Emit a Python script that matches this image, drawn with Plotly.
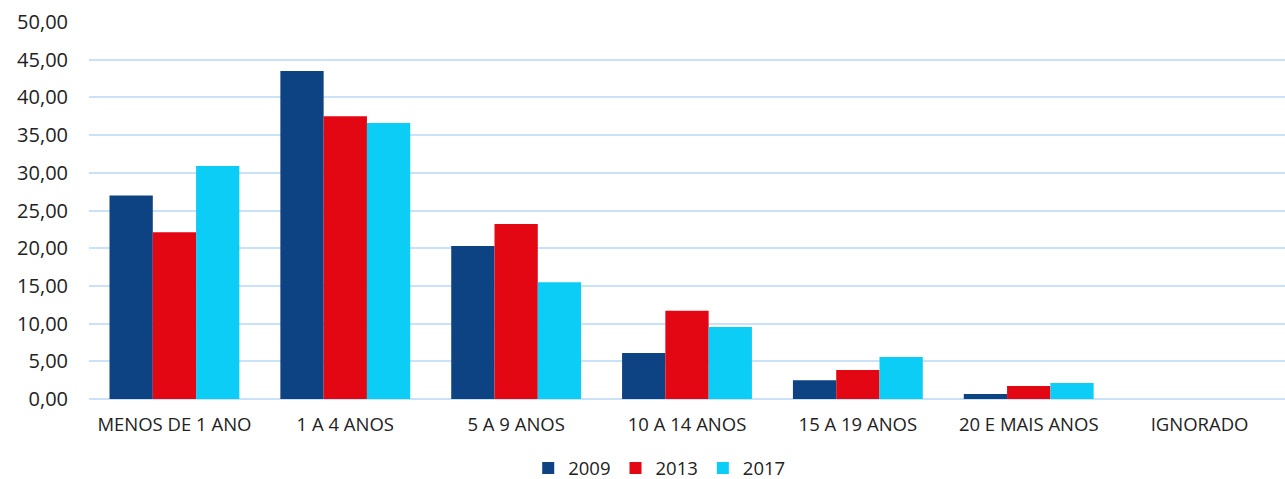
import plotly.graph_objects as go

categories = ["MENOS DE 1 ANO", "1 A 4 ANOS", "5 A 9 ANOS", "10 A 14 ANOS",
              "15 A 19 ANOS", "20 E MAIS ANOS", "IGNORADO"]
v2009 = [27.0, 43.5, 20.3, 6.1, 2.5, 0.66, 0.0]
v2013 = [22.1, 37.5, 23.2, 11.7, 3.85, 1.72, 0.0]
v2017 = [30.9, 36.6, 15.5, 9.55, 5.57, 2.12, 0.0]
series = [("2009", v2009, "#0d4382"), ("2013", v2013, "#e30613"), ("2017", v2017, "#0ccdf6")]
yticks = [0, 5, 10, 15, 20, 25, 30, 35, 40, 45, 50]

fig = go.Figure()
for name, vals, col in series:
    fig.add_trace(go.Bar(x=categories, y=vals, name=name, marker=dict(color=col, line=dict(width=0))))

fig.update_layout(
    width=1285, height=479,
    margin=dict(l=89, r=0, t=22, b=80),
    plot_bgcolor="white", paper_bgcolor="white",
    barmode="group", bargap=0.24, bargroupgap=0,
    separators=",.",
    font=dict(family="Open Sans, Liberation Sans, sans-serif", color="#222"),
    legend=dict(orientation="h", x=0.513, xanchor="center", xref="container",
                y=0.022, yanchor="middle", yref="container",
                font=dict(size=18.5), itemwidth=30, traceorder="normal"),
    xaxis=dict(showgrid=False, showline=False, ticks="", tickfont=dict(size=18.5),
               ticklabelstandoff=12, automargin=False),
    yaxis=dict(range=[0, 50], tickvals=yticks, tickformat=".2f", showgrid=True,
               gridcolor="#c9e2f9", gridwidth=2, zeroline=True, zerolinecolor="#c9e2f9",
               zerolinewidth=2, showline=False, ticks="", tickfont=dict(size=20),
               ticklabelstandoff=20, automargin=False),
)
fig.write_html("out.html", config={"displayModeBar": False},
               post_script="document.body.style.margin='0';document.body.style.overflow='hidden';")
